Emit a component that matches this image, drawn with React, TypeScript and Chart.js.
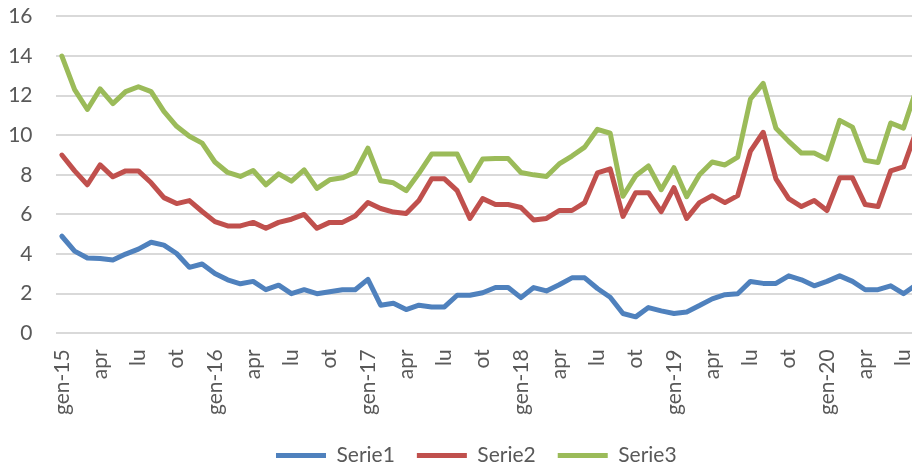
import React, { useEffect, useRef } from 'react';
import { Chart, registerables } from 'chart.js';

Chart.register(...registerables);

// Monthly categories gen-15 .. ago-20 (the last one is cut by the picture edge)
const categories: string[] = [
  'gen-15', 'feb', 'mar', 'apr', 'mag', 'giu', 'lu', 'ago', 'set', 'ot', 'nov', 'dic',
  'gen-16', 'feb', 'mar', 'apr', 'mag', 'giu', 'lu', 'ago', 'set', 'ot', 'nov', 'dic',
  'gen-17', 'feb', 'mar', 'apr', 'mag', 'giu', 'lu', 'ago', 'set', 'ot', 'nov', 'dic',
  'gen-18', 'feb', 'mar', 'apr', 'mag', 'giu', 'lu', 'ago', 'set', 'ot', 'nov', 'dic',
  'gen-19', 'feb', 'mar', 'apr', 'mag', 'giu', 'lu', 'ago', 'set', 'ot', 'nov', 'dic',
  'gen-20', 'feb', 'mar', 'apr', 'mag', 'giu', 'lu', 'ago',
];

const serie1: number[] = [
  4.9, 4.15, 3.8, 3.78, 3.7, 4.0, 4.25, 4.6, 4.45, 4.03, 3.33, 3.5,
  3.02, 2.7, 2.5, 2.62, 2.2, 2.43, 2.0, 2.2, 2.0, 2.1, 2.2, 2.2,
  2.72, 1.42, 1.52, 1.2, 1.42, 1.33, 1.33, 1.92, 1.92, 2.05, 2.31, 2.31,
  1.8, 2.31, 2.14, 2.45, 2.8, 2.8, 2.26, 1.82, 1.0, 0.83, 1.3, 1.13,
  1.0, 1.08, 1.4, 1.74, 1.95, 2.0, 2.62, 2.52, 2.52, 2.9, 2.7, 2.4,
  2.62, 2.9, 2.62, 2.2, 2.2, 2.4, 2.0, 2.45,
];

const serie2: number[] = [
  9.0, 8.2, 7.5, 8.5, 7.9, 8.2, 8.2, 7.6, 6.85, 6.55, 6.7, 6.15,
  5.64, 5.42, 5.42, 5.6, 5.3, 5.6, 5.76, 6.0, 5.3, 5.6, 5.6, 5.92,
  6.6, 6.3, 6.12, 6.05, 6.7, 7.8, 7.8, 7.2, 5.8, 6.8, 6.5, 6.5,
  6.35, 5.72, 5.8, 6.2, 6.2, 6.6, 8.1, 8.3, 5.9, 7.1, 7.1, 6.14,
  7.35, 5.8, 6.6, 6.95, 6.6, 6.95, 9.2, 10.15, 7.8, 6.8, 6.4, 6.7,
  6.2, 7.85, 7.85, 6.5, 6.4, 8.2, 8.4, 10.2,
];

const serie3: number[] = [
  14.0, 12.3, 11.3, 12.34, 11.6, 12.2, 12.45, 12.2, 11.2, 10.45, 9.95, 9.6,
  8.65, 8.12, 7.92, 8.22, 7.5, 8.05, 7.68, 8.25, 7.32, 7.75, 7.85, 8.12,
  9.35, 7.7, 7.6, 7.2, 8.08, 9.05, 9.05, 9.05, 7.72, 8.8, 8.82, 8.82,
  8.12, 8.0, 7.92, 8.55, 8.95, 9.4, 10.3, 10.1, 6.92, 7.95, 8.45, 7.25,
  8.36, 6.9, 8.0, 8.65, 8.5, 8.9, 11.83, 12.62, 10.35, 9.69, 9.1, 9.1,
  8.79, 10.75, 10.41, 8.73, 8.62, 10.62, 10.36, 12.3,
];

const seriesNames = ['Serie1', 'Serie2', 'Serie3'];
const seriesColors = ['#4f81bd', '#c0504d', '#9bbb59'];
const yTicks = { min: 0, max: 16, step: 2 };

const FONT = 'Lato, "Open Sans", "Liberation Sans", sans-serif';
const TEXT = '#595959';

export default function App() {
  const ref = useRef<HTMLCanvasElement | null>(null);

  useEffect(() => {
    if (!ref.current) return;
    const values = [serie1, serie2, serie3];
    const chart = new Chart(ref.current, {
      type: 'line',
      data: {
        labels: categories,
        datasets: values.map((v, i) => ({
          label: seriesNames[i],
          data: v,
          borderColor: seriesColors[i],
          backgroundColor: seriesColors[i],
          borderWidth: 5,
          borderCapStyle: 'round' as const,
          borderJoinStyle: 'round' as const,
          pointRadius: 0,
          pointHoverRadius: 0,
          tension: 0,
          fill: false,
        })),
      },
      options: {
        responsive: false,
        animation: false,
        devicePixelRatio: 1,
        layout: { padding: { left: 0, right: 7.4, top: 16.4, bottom: 0 } },
        plugins: {
          tooltip: { enabled: false },
          legend: {
            position: 'bottom',
            labels: {
              usePointStyle: true,
              pointStyle: 'line',
              pointStyleWidth: 50,
              padding: 22,
              color: TEXT,
              font: { family: FONT, size: 21 },
            },
          },
        },
        scales: {
          x: {
            type: 'category',
            offset: true,
            grid: { display: false, drawTicks: false },
            border: { display: false },
            afterFit: (s: any) => { s.height = 89.7; },
            ticks: {
              autoSkip: false,
              maxRotation: 90,
              minRotation: 90,
              padding: 16,
              color: TEXT,
              font: { family: FONT, size: 21 },
              callback: (_v: any, idx: number) => (idx % 3 === 0 ? categories[idx] : ''),
            },
          },
          y: {
            min: yTicks.min,
            max: yTicks.max,
            afterFit: (s: any) => { s.width = 55.5; },
            grid: {
              color: '#d9d9d9',
              lineWidth: 2,
              drawTicks: true,
              tickLength: 23,
              tickColor: 'rgba(0,0,0,0)',
            },
            border: { display: false },
            ticks: {
              stepSize: yTicks.step,
              padding: 0,
              color: TEXT,
              font: { family: FONT, size: 21 },
            },
          },
          spacer: {
            position: 'right',
            display: true,
            afterFit: (s: any) => { s.width = 30; },
            grid: { display: false, drawTicks: false },
            border: { display: false },
            ticks: { display: false },
          },
        },
      },
    });
    return () => chart.destroy();
  }, []);

  return (
    <div style={{ position: 'fixed', left: 0, top: 0, width: 912, height: 467, overflow: 'hidden', background: '#fff' }}>
      <canvas ref={ref} width={960} height={476} style={{ display: 'block', width: 960, height: 476 }} />
    </div>
  );
}
